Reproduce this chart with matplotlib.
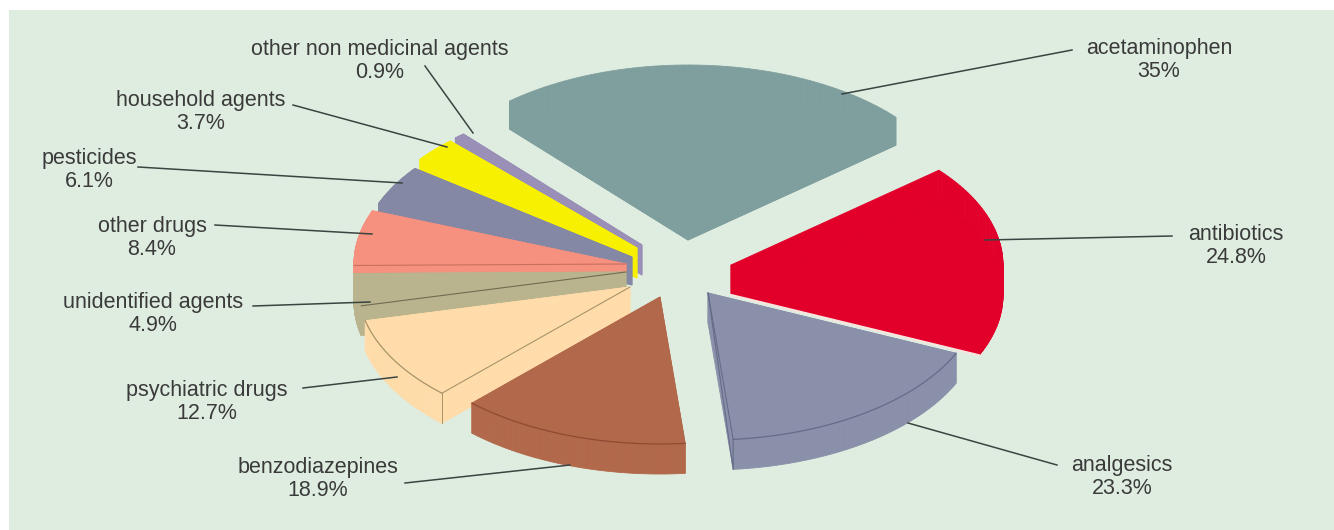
import matplotlib
matplotlib.use("Agg")
import matplotlib.pyplot as plt
from matplotlib.patches import Rectangle
import numpy as np

plt.rcParams['font.family'] = ['Liberation Sans', 'DejaVu Sans']

names = ["acetaminophen", "antibiotics", "analgesics", "benzodiazepines", "psychiatric drugs",
         "unidentified agents", "other drugs", "pesticides", "household agents", "other non medicinal agents"]
values = [35, 24.8, 23.3, 18.9, 12.7, 4.9, 8.4, 6.1, 3.7, 0.9]
colors = ["#7f9f9f", "#e2002b", "#8a90a9", "#b2694b", "#ffdcaa",
          "#b9b48e", "#f6907f", "#8488a4", "#f7f000", "#9a8fb7"]
edge_colors = ["#7f9f9f", "#e2002b", "#666c88", "#8f4a32", "#a8946a",
               "#6f6c50", "#c8705f", "#70748f", "#b4b020", "#9a8fb7"]

# pie geometry in pixels, y pointing down
CX, CY = 672, 270
RX, RY = 272, 147
START = 229
BG = "#dfede1"

explode_x = [16, 59, 36, -12, -42, -46, -46, -40, -35, -30]
explode_y = [-30, 25, 23, 27, 17, 2, -6, -13, -22, -25]
# thickness of each slice, negative means it rises above its face
depth = [-28, -30, 30, 30, 30, 30, 8, 28, 30, 30]
# back slices first so the nearer ones cover them
draw_order = [9, 8, 7, 6, 5, 4, 3, 2, 0, 1]

# which cut edge of a slice gets a drawn line
start_edge = [False, False, False, False, True, True, True, False, False, False]
end_edge = [False, False, True, False, False, False, False, False, False, False]

# label centres and the leader lines
label_x = [1159, 1236, 1122, 318, 207, 153, 152, 89, 201, 380]
label_y = [60, 246, 477, 479, 402, 314, 238, 170, 112, 61]
line_start = [(1072, 50), (1172, 236), (1057, 465), (405, 483), (303, 388),
              (253, 306), (215, 225), (138, 167), (293, 105), (425, 66)]
line_end = [(842, 94), (985, 240), (908, 423), (570, 465), (397, 377),
            (370, 302), (372, 234), (402, 183), (447, 147), (473, 133)]

fig = plt.figure(figsize=(13.34, 5.30), dpi=100, facecolor="white")
ax = fig.add_axes([0, 0, 1, 1])
ax.set_xlim(0, 1334)
ax.set_ylim(530, 0)
ax.axis('off')
ax.add_patch(Rectangle((9, 10), 1325, 520, facecolor=BG, edgecolor="none", zorder=0))

spans = np.array(values) / sum(values) * 360
ends = START + np.cumsum(spans)
starts = ends - spans

z = 2
for i in draw_order:
    t = np.radians(np.linspace(starts[i], ends[i], 60))
    x0 = CX + explode_x[i]
    y0 = CY + explode_y[i]
    arc_x = x0 + RX * np.cos(t)
    arc_y = y0 + RY * np.sin(t)
    px = np.r_[x0, arc_x]
    py = np.r_[y0, arc_y]

    # side walls, one quad per outline segment
    for k in range(len(px)):
        n = (k + 1) % len(px)
        ax.fill([px[k], px[n], px[n], px[k]],
                [py[k], py[n], py[n] + depth[i], py[k] + depth[i]],
                color=colors[i], lw=0.6, zorder=z)
    # face of the slice
    ax.fill(px, py, color=colors[i], lw=0.6, zorder=z + 0.1)
    if depth[i] > 0:
        if i < 5:
            ax.plot(arc_x, arc_y, color=edge_colors[i], lw=0.9, zorder=z + 0.2)
        if start_edge[i]:
            ax.plot([x0, arc_x[0]], [y0, arc_y[0]], color=edge_colors[i], lw=0.8, zorder=z + 0.2)
            if i == 4:
                ax.plot([arc_x[0], arc_x[0]], [arc_y[0], arc_y[0] + depth[i]],
                        color=edge_colors[i], lw=0.7, zorder=z + 0.2)
        if end_edge[i]:
            ax.plot([x0, arc_x[-1]], [y0, arc_y[-1]], color=edge_colors[i], lw=0.8, zorder=z + 0.2)
            if i == 2:
                ax.plot([x0, arc_x[-1], arc_x[-1]], [y0, arc_y[-1] + depth[i], arc_y[-1]],
                        color=edge_colors[i], lw=0.8, zorder=z + 0.2)
    z += 1

# pale highlight under the antibiotics slice
t_end = np.radians(ends[1])
ax.plot([CX + explode_x[1], CX + explode_x[1] + RX * np.cos(t_end)],
        [CY + explode_y[1], CY + explode_y[1] + RY * np.sin(t_end)],
        color="#f6e6e0", lw=1.6, zorder=z + 1)

for i in range(len(names)):
    ax.plot([line_start[i][0], line_end[i][0]], [line_start[i][1], line_end[i][1]],
            color="#3a4440", lw=1.1, zorder=z + 2)
    ax.text(label_x[i], label_y[i], f"{names[i]}\n{values[i]:g}%", ha='center', va='center',
            fontsize=15.5, color="#3a3a3a", linespacing=1.08, zorder=z + 3)

plt.savefig("out.png", dpi=100, facecolor="white")
